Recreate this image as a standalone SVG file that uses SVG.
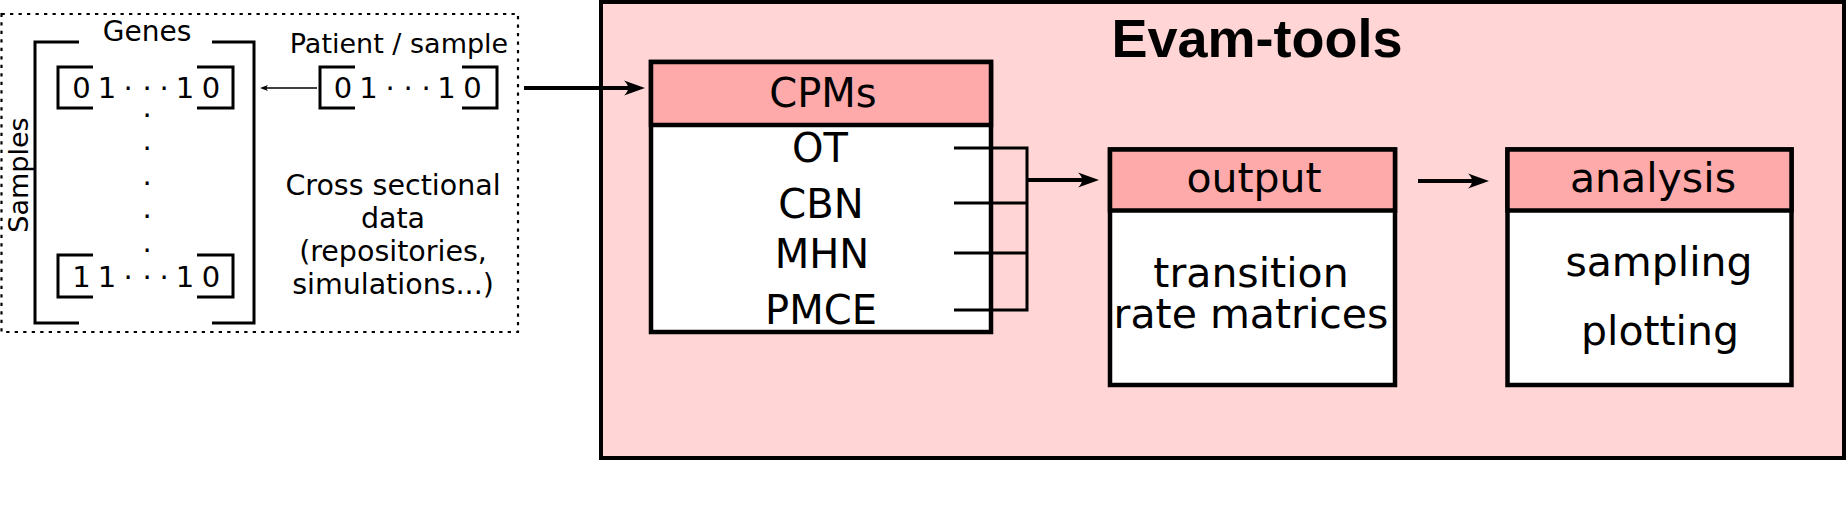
<svg xmlns="http://www.w3.org/2000/svg" width="1848" height="509" viewBox="0 0 1848 509">
<style>
  .t { font-family: "DejaVu Sans", "Noto Sans", sans-serif; fill: #000; }
  .mid { text-anchor: middle; }
  .br { fill: none; stroke: #000; stroke-width: 3; }
  .box { fill: #fff; stroke: #000; stroke-width: 4.5; }
  .hdr { fill: #ffaaaa; stroke: #000; stroke-width: 4.5; }
  .con { fill: none; stroke: #000; stroke-width: 3; }
  .thick { fill: none; stroke: #000; stroke-width: 4; }
  .dig { font-size: 29px; }
  .big { font-size: 40px; }
  .big41 { font-size: 41px; }
</style>
<defs>
  <marker id="ah" markerUnits="userSpaceOnUse" viewBox="-22 -8 24 16" markerWidth="24" markerHeight="16" refX="-12" refY="0" orient="auto">
    <path d="M0,0 L-21,-7.5 C-15.5,-2.5 -15.5,2.5 -21,7.5 Z" fill="#000"/>
  </marker>
  <marker id="ahs" markerUnits="userSpaceOnUse" viewBox="-9 -4 10 8" markerWidth="10" markerHeight="8" refX="-3" refY="0" orient="auto">
    <path d="M0,0 L-8,-3 C-6,-1 -6,1 -8,3 Z" fill="#000"/>
  </marker>
</defs>

<!-- Input data panel -->
<g id="input-data">
  <rect x="1.5" y="14" width="516.5" height="318" fill="none" stroke="#000" stroke-width="2.2" stroke-dasharray="3.3,5.2"/>
  <g id="matrix">
    <path class="br" d="M79,42 H35 V323 H79"/>
    <path class="br" d="M212,42 H254 V323 H212"/>
    <text class="t mid" font-size="28" x="147" y="41">Genes</text>
    <text class="t mid" font-size="27" transform="translate(28,175) rotate(-90)">Samples</text>
    <path class="br" d="M93,67 H58 V108 H93"/>
    <path class="br" d="M197,67 H233 V108 H197"/>
    <g class="t dig mid">
      <text x="81.5" y="98">0</text>
      <text x="107" y="98">1</text>
      <text x="128" y="98">·</text>
      <text x="147" y="98">·</text>
      <text x="164" y="98">·</text>
      <text x="185" y="98">1</text>
      <text x="211" y="98">0</text>
      <text x="147" y="125">·</text>
      <text x="147" y="158">·</text>
      <text x="147" y="193">·</text>
      <text x="147" y="226">·</text>
      <text x="147" y="260">·</text>
      <text x="81.5" y="287">1</text>
      <text x="107" y="287">1</text>
      <text x="128" y="287">·</text>
      <text x="147" y="287">·</text>
      <text x="164" y="287">·</text>
      <text x="185" y="287">1</text>
      <text x="211" y="287">0</text>
    </g>
    <path class="br" d="M93,255 H58 V297 H93"/>
    <path class="br" d="M197,255 H233 V297 H197"/>
  </g>
  <g id="patient">
    <text class="t mid" font-size="27" x="399" y="53">Patient / sample</text>
    <path class="br" d="M355,67 H320 V108 H355"/>
    <path class="br" d="M462,67 H497 V108 H462"/>
    <g class="t dig mid">
      <text x="343" y="98">0</text>
      <text x="368.5" y="98">1</text>
      <text x="390" y="98">·</text>
      <text x="408" y="98">·</text>
      <text x="426" y="98">·</text>
      <text x="446.5" y="98">1</text>
      <text x="472.5" y="98">0</text>
    </g>
  </g>
  <g id="cross-sectional" class="t mid" font-size="28.5">
    <text x="393" y="195">Cross sectional</text>
    <text x="393" y="228">data</text>
    <text x="393" y="261">(repositories,</text>
    <text x="393" y="294">simulations...)</text>
  </g>
</g>

<!-- Evam-tools container -->
<g id="evam-tools">
  <rect x="601" y="2" width="1243" height="456" fill="#ffd5d5" stroke="#000" stroke-width="4"/>
  <text x="1257" y="57" text-anchor="middle" font-family="'Liberation Sans', Arial, sans-serif" font-weight="bold" font-size="54">Evam-tools</text>
</g>

<g id="cpms">
  <rect class="box" x="651" y="62" width="340" height="270"/>
  <rect class="hdr" x="651" y="62" width="340" height="63"/>
  <text class="t big mid" x="823" y="107">CPMs</text>
  <text class="t big mid" x="820" y="162">OT</text>
  <text class="t big mid" x="821" y="218">CBN</text>
  <text class="t big mid" x="822" y="268">MHN</text>
  <text class="t big mid" x="821" y="324">PMCE</text>
</g>

<g id="output">
  <rect class="box" x="1110" y="149.5" width="285" height="235.5"/>
  <rect class="hdr" x="1110" y="149.5" width="285" height="61"/>
  <text class="t big41 mid" x="1254" y="192">output</text>
  <text class="t big41 mid" x="1251" y="287">transition</text>
  <text class="t big41 mid" x="1251" y="328">rate matrices</text>
</g>

<g id="analysis">
  <rect class="box" x="1507.5" y="149.5" width="284" height="235.5"/>
  <rect class="hdr" x="1507.5" y="149.5" width="284" height="61"/>
  <text class="t big41 mid" x="1653" y="192">analysis</text>
  <text class="t big41 mid" x="1659" y="276">sampling</text>
  <text class="t big41 mid" x="1660" y="345">plotting</text>
</g>

<!-- Connectors -->
<g id="connectors">
  <line x1="317" y1="88" x2="263" y2="88" stroke="#000" stroke-width="1.6" marker-end="url(#ahs)"/>
  <line class="thick" x1="524" y1="88" x2="633" y2="88" marker-end="url(#ah)"/>
  <path class="con" d="M954,148 H1027 M954,203 H1027 M954,253 H1027 M954,310 H1027 M1027,146.5 V311.5"/>
  <line class="thick" x1="1027" y1="180" x2="1087" y2="180" marker-end="url(#ah)"/>
  <line class="thick" x1="1418" y1="181" x2="1477" y2="181" marker-end="url(#ah)"/>
</g>
</svg>
